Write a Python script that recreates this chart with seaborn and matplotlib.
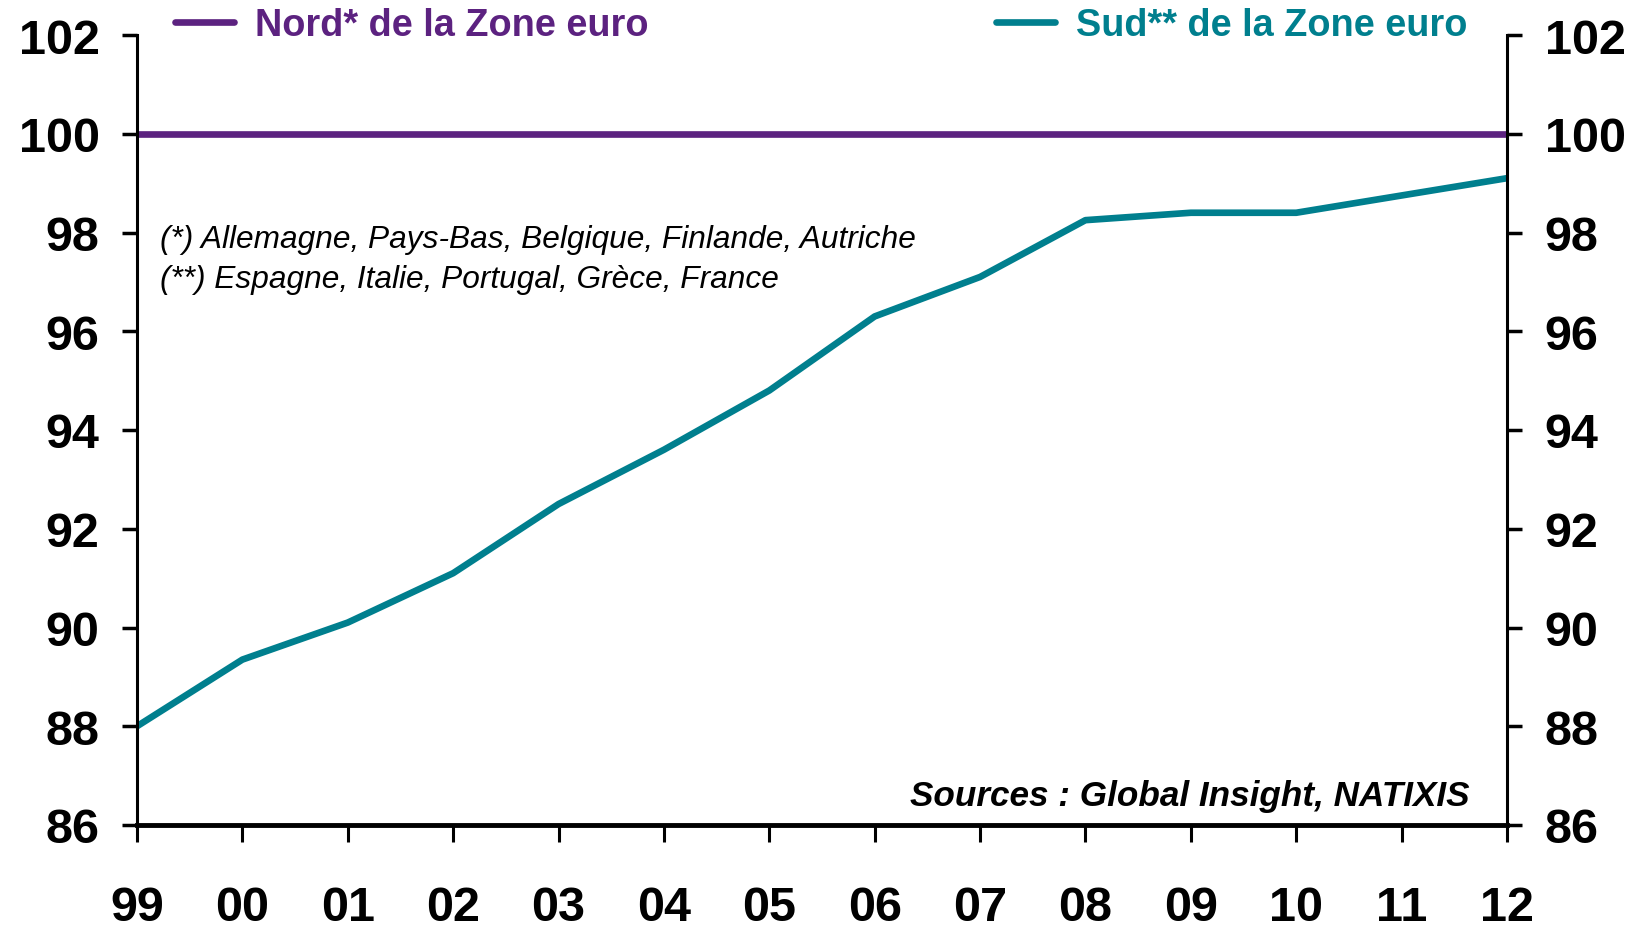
import numpy as np
import pandas as pd
import matplotlib
matplotlib.use('Agg')
import matplotlib.pyplot as plt
import seaborn as sns

years = ['99', '00', '01', '02', '03', '04', '05', '06', '07', '08', '09', '10', '11', '12']
nord = [100, 100, 100, 100, 100, 100, 100, 100, 100, 100, 100, 100, 100, 100]
sud = [88.0, 89.35, 90.1, 91.1, 92.5, 93.6, 94.8, 96.3, 97.1, 98.25, 98.4, 98.4, 98.75, 99.1]
y_ticks = [86, 88, 90, 92, 94, 96, 98, 100, 102]

nord_label = 'Nord* de la Zone euro'
sud_label = 'Sud** de la Zone euro'
note1 = '(*) Allemagne, Pays-Bas, Belgique, Finlande, Autriche'
note2 = '(**) Espagne, Italie, Portugal, Grèce, France'
source = 'Sources : Global Insight, NATIXIS'

purple = '#5C2280'
teal = '#007F8E'

df = pd.DataFrame({'year': years, 'nord': nord, 'sud': sud})

sns.set_style('white')
plt.rcParams['font.family'] = ['Liberation Sans', 'DejaVu Sans']
plt.rcParams['text.color'] = 'black'

fig = plt.figure(figsize=(16.5, 9.29), dpi=100)
ax = fig.add_axes([137 / 1650, 1 - 826 / 929, (1507 - 137) / 1650, (826 - 36) / 929])

sns.lineplot(data=df, x='year', y='nord', ax=ax, color=purple, linewidth=4.8, label=nord_label, sort=False)
sns.lineplot(data=df, x='year', y='sud', ax=ax, color=teal, linewidth=4.8, label=sud_label, sort=False)

ax.set_xlim(0, len(years) - 1)
ax.set_ylim(86, 102)
ax.set_yticks(y_ticks)
ax.set_yticklabels([str(t) for t in y_ticks])
ax.set_xticks(range(len(years)))
ax.set_xticklabels(years)
ax.set_xlabel('')
ax.set_ylabel('')

for side in ['left', 'right']:
    ax.spines[side].set_visible(True)
    ax.spines[side].set_linewidth(2.2)
    ax.spines[side].set_color('black')
ax.spines['bottom'].set_linewidth(3.5)
ax.spines['bottom'].set_color('black')
ax.spines['top'].set_visible(False)

ax.tick_params(axis='y', which='both', direction='out', length=11, width=2.5,
               left=True, right=True, labelleft=True, labelright=True,
               labelsize=35, pad=16, colors='black')
ax.tick_params(axis='x', direction='out', length=12, width=2.2, bottom=True,
               labelsize=35, pad=31, colors='black')
for lab in ax.get_xticklabels() + ax.get_yticklabels():
    lab.set_fontweight('bold')
for t in ax.yaxis.get_major_ticks():
    t.label2.set_fontweight('bold')
    t.label2.set_fontsize(35)

handles, labels = ax.get_legend_handles_labels()
ax.get_legend().remove()

leg1 = ax.legend([handles[0]], [labels[0]], loc='center left',
                 bbox_to_anchor=(175 / 1650, 1 - 26 / 929), bbox_transform=fig.transFigure,
                 frameon=False, borderpad=0, borderaxespad=0, handlelength=1.55,
                 handletextpad=0.55, prop={'size': 27.3, 'weight': 'bold'}, labelcolor=purple)
ax.add_artist(leg1)
ax.legend([handles[1]], [labels[1]], loc='center left',
          bbox_to_anchor=(996 / 1650, 1 - 26 / 929), bbox_transform=fig.transFigure,
          frameon=False, borderpad=0, borderaxespad=0, handlelength=1.55,
          handletextpad=0.55, prop={'size': 27.3, 'weight': 'bold'}, labelcolor=teal)

fig.text(160 / 1650, 1 - 240 / 929, note1, fontsize=22.8, style='italic', va='center', ha='left', color='black')
fig.text(160 / 1650, 1 - 280 / 929, note2, fontsize=22.8, style='italic', va='center', ha='left', color='black')
fig.text(1469 / 1650, 1 - 797 / 929, source, fontsize=25.3, style='italic', fontweight='bold',
         va='center', ha='right', color='black')

fig.savefig('out.png', dpi=100)
